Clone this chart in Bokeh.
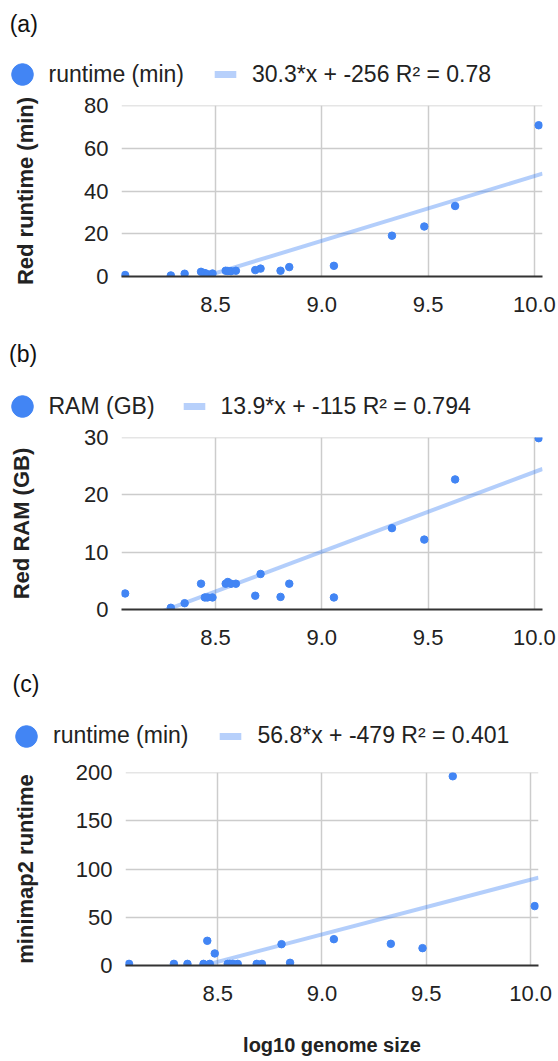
from bokeh.plotting import figure
from bokeh.models import (Legend, LegendItem, Label, FixedTicker,
                          NumeralTickFormatter, Range1d)
from bokeh.layouts import column
from bokeh.embed import file_html
from bokeh.resources import INLINE

# ---- data ----
log10_genome_size = [8.075, 8.29, 8.355, 8.432, 8.45, 8.462, 8.486, 8.548, 8.558, 8.573,
                     8.596, 8.687, 8.712, 8.806, 8.847, 9.057, 9.33, 9.482, 9.627, 10.02]
red_runtime_min = [0.7, 0.5, 1.3, 2.2, 1.6, 1.1, 1.4, 2.7, 2.6, 2.5,
                   2.7, 3.0, 3.7, 2.7, 4.4, 5.0, 19.1, 23.4, 33.0, 70.8]
red_ram_gb = [2.8, 0.3, 1.1, 4.5, 2.1, 2.1, 2.1, 4.5, 4.8, 4.5,
              4.5, 2.4, 6.2, 2.2, 4.5, 2.1, 14.2, 12.2, 22.7, 29.9]
minimap2_runtime_min = [1.7, 1.7, 1.7, 1.7, 25.6, 1.7, 12.5, 1.7, 1.7, 1.7,
                        1.7, 1.7, 1.7, 22.1, 2.8, 27.3, 22.5, 18.0, 196.2, 61.6]

# trendline coefficients as shown in the legends
trend_slopes = [30.3, 13.9, 56.8]
trend_intercepts = [-256, -115, -479]
trend_r2 = ["0.78", "0.794", "0.401"]

series_names = ["runtime (min)", "RAM (GB)", "runtime (min)"]
y_titles = ["Red runtime (min)", "Red RAM (GB)", "minimap2 runtime"]
panel_tags = ["(a)", "(b)", "(c)"]
y_ticks = [[0, 20, 40, 60, 80], [0, 10, 20, 30], [0, 50, 100, 150, 200]]
x_ticks = [8.5, 9.0, 9.5, 10.0]
x_min, x_max = 8.058, 10.038

FONT = "Liberation Sans"
BLUE = "#4285F4"
TEXT = "#222222"
W = 558
NAN = float("nan")

layouts = [
    dict(hh=90, tagx=9.2, tagc=23.5, lx=-5.5, lc=74, sp=14,
         ph=240, top=15, fh=171, left=121, fw=421, ystand=43, xtitle=None),
    dict(hh=90, tagx=8.5, tagc=23.5, lx=-5.5, lc=76, sp=12,
         ph=240, top=17, fh=172, left=121, fw=421, ystand=47, xtitle=None),
    dict(hh=97, tagx=12.0, tagc=23.5, lx=-1.0, lc=75.8, sp=15,
         ph=304, top=15, fh=193, left=125, fw=413, ystand=35, xtitle="log10 genome size"),
]
series = [red_runtime_min, red_ram_gb, minimap2_runtime_min]

blocks = []
for i in range(3):
    L = layouts[i]
    s, b = trend_slopes[i], trend_intercepts[i]

    # ---- header: panel tag + legend ----
    h = figure(width=W, height=L["hh"], title=None, x_range=Range1d(0, W),
               y_range=Range1d(0, L["hh"]), x_axis_type=None, y_axis_type=None,
               output_backend="svg", toolbar_location=None, min_border=0)
    h.outline_line_color = None
    h.grid.visible = False
    # legend proxies (not drawn in the frame)
    dot = h.scatter(x=[NAN], y=[NAN], marker="circle", fill_color=BLUE, line_color=BLUE)
    swatch = h.scatter(x=[NAN], y=[NAN], marker="dash", line_color="#b7d0fb", line_width=7)
    eq = f"{s}*x + {b} R\u00b2 = {trend_r2[i]}"
    gb = 54
    legend = Legend(items=[LegendItem(label=series_names[i], renderers=[dot]),
                           LegendItem(label=eq, renderers=[swatch])],
                    location=(L["lx"], L["hh"] - (L["lc"] + gb / 2)), orientation="horizontal",
                    glyph_width=gb, glyph_height=gb, label_standoff=0, spacing=L["sp"],
                    padding=0, margin=0, border_line_color=None, background_fill_alpha=0,
                    label_text_font=FONT, label_text_font_size="23px", label_text_color=TEXT)
    h.add_layout(legend)
    h.add_layout(Label(x=L["tagx"], y=L["hh"] - L["tagc"], x_units="screen", y_units="screen",
                       text=panel_tags[i], text_font=FONT, text_font_size="23px",
                       text_color="#111111", text_baseline="middle"))
    blocks.append(column(h))

    # ---- scatter plot ----
    ymax = y_ticks[i][-1]
    p = figure(width=W, height=L["ph"], title=None,
               x_range=Range1d(x_min, x_max), y_range=Range1d(0, ymax * 1.0005),
               output_backend="svg", toolbar_location=None,
               min_border_left=L["left"], min_border_right=W - L["left"] - L["fw"],
               min_border_top=L["top"], min_border_bottom=L["ph"] - L["top"] - L["fh"])
    p.outline_line_color = None

    p.xaxis.ticker = FixedTicker(ticks=x_ticks)
    p.xaxis.formatter = NumeralTickFormatter(format="0.0")
    p.yaxis.ticker = FixedTicker(ticks=y_ticks[i])
    for ax in (p.xaxis[0], p.yaxis[0]):
        ax.major_tick_line_color = None
        ax.minor_tick_line_color = None
        ax.major_tick_out = 0
        ax.major_tick_in = 0
        ax.major_label_text_font = FONT
        ax.major_label_text_font_size = "22px"
        ax.major_label_text_color = TEXT
        ax.axis_label_text_font = FONT
        ax.axis_label_text_font_style = "bold"
        ax.axis_label_text_color = TEXT
    p.xaxis.axis_line_color = "#333333"
    p.xaxis.axis_line_width = 2
    p.xaxis.major_label_standoff = 20
    p.yaxis.axis_line_color = None
    p.yaxis.major_label_standoff = 13
    p.yaxis.axis_label = y_titles[i]
    p.yaxis.axis_label_text_font_size = "22px"
    p.yaxis.axis_label_standoff = L["ystand"]
    if L["xtitle"]:
        p.xaxis.axis_label = L["xtitle"]
        p.xaxis.axis_label_text_font_size = "20px"
        p.xaxis.axis_label_standoff = 30

    p.xgrid.ticker = FixedTicker(ticks=x_ticks)
    p.ygrid.ticker = FixedTicker(ticks=y_ticks[i])
    for g in (p.xgrid[0], p.ygrid[0]):
        g.grid_line_color = "#cccccc"
        g.grid_line_width = 1.5

    p.line([x_min, x_max], [s * x_min + b, s * x_max + b],
           line_color=BLUE, line_alpha=0.4, line_width=4)
    p.scatter(log10_genome_size, series[i], size=7.5, fill_color=BLUE, line_color=BLUE)
    blocks.append(column(p))

layout = column(*blocks, spacing=0)
open("out.html", "w").write(file_html(layout, INLINE))
